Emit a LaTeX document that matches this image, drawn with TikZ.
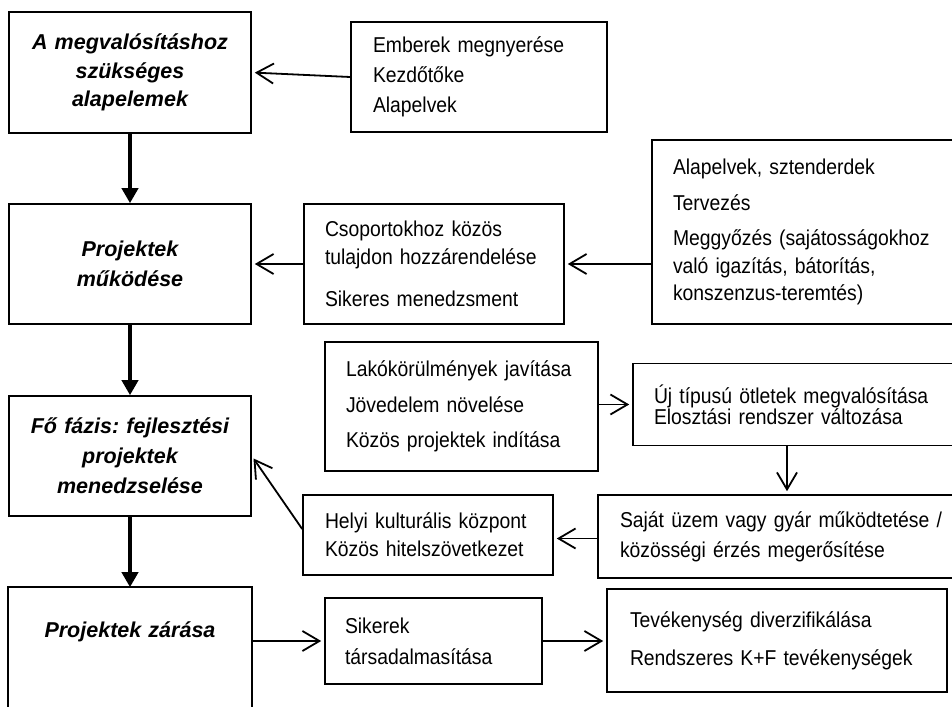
\documentclass[tikz,border=0pt]{standalone}
\usepackage{fontspec}
\setmainfont{Liberation Sans}
\newfontfamily\narrowfamily[FakeStretch=0.9]{Liberation Sans}
\usetikzlibrary{arrows.meta}

\newcommand{\boxfont}{\narrowfamily\fontsize{21.5}{22.5}\selectfont}
\newcommand{\headfont}{\fontsize{21.5}{30}\selectfont\bfseries\itshape}
\frenchspacing

\begin{document}
\begin{tikzpicture}[x=1pt, y=-1pt,
    box/.style={draw, line width=1.6pt, inner ysep=0pt, align=left, font=\boxfont},
    head/.style={draw, line width=1.6pt, inner sep=0pt, align=center, font=\headfont,
      text width=242pt, minimum height=120pt},
    sidearrow/.style={line width=1.8pt, -{Straight Barb[length=17pt,width=20pt]}, shorten >=3pt},
    mainarrow/.style={line width=4.5pt, -{Triangle[length=15pt,width=16pt]}}]
    \useasboundingbox (0,0) rectangle (952,706);
    % stages (left column)
    \node[head, minimum height=121pt] (0) at (130,72.5) {A megvalósításhoz\\[-1.5pt]szükséges\\[-1.5pt]alapelemek};
    \node[head] (2) at (130,264) {Projektek\\működése};
    \node[head] (5) at (130,456) {Fő fázis: fejlesztési\\projektek\\menedzselése};
    \node[head, draw=none, minimum height=88pt] (11) at (130,632) {Projektek zárása};
    \draw [line width=1.6pt] ([yshift=-130pt]11.north west) -- (11.north west)
        -- (11.north east) -- ([yshift=-130pt]11.north east); % open at the bottom
    \draw [mainarrow] (0) to (2);
    \draw [mainarrow] (2) to (5);
    \draw [mainarrow] (5) to (11);
    % inputs
    \node[box, text width=212pt, inner xsep=22pt, minimum height=110pt] (1) at (479,77)
        {Emberek megnyerése\\[7.5pt]Kezdőtőke\\[7.5pt]Alapelvek};
    \node[box, text width=218pt, inner xsep=21pt, minimum height=120pt] (3) at (434,264)
        {Csoportokhoz közös\\[5.5pt]tulajdon hozzárendelése\\[19.5pt]Sikeres menedzsment};
    \node[box, text width=276pt, inner xsep=21pt, minimum height=184pt] (4) at (811,232)
        {Alapelvek, sztenderdek\\[13.5pt]Tervezés\\[12.5pt]Meggyőzés (sajátosságokhoz\\[5.5pt]való igazítás, bátorítás,\\[4.5pt]konszenzus-teremtés)};
    \draw [sidearrow] (1.west) to (0.east);
    \draw [sidearrow] (3.east -| 4.west) to (3.east);
    \draw [sidearrow] (3.west) to (2.east);
    % main phase loop
    \node[box, text width=231pt, inner xsep=21pt, minimum height=129pt] (6) at (461.5,406.5)
        {Lakókörülmények javítása\\[13pt]Jövedelem növelése\\[13pt]Közös projektek indítása};
    \node[box, text width=295pt, inner xsep=21pt, minimum height=82pt] (7) at (801.5,404.5)
        {Új típusú ötletek megvalósítása\\[-1.5pt]Elosztási rendszer változása};
    \node[box, text width=328pt, inner xsep=22pt, minimum height=83pt] (8) at (784,536.5)
        {Saját üzem vagy gyár működtetése /\\[7.5pt]közösségi érzés megerősítése};
    \node[box, text width=206pt, inner xsep=22pt, minimum height=80pt] (9) at (428,535)
        {Helyi kulturális központ\\[5.5pt]Közös hitelszövetkezet};
    \draw [sidearrow] (7.west -| 6.east) to (7.west);
    \draw [sidearrow] ([xshift=-14.5pt]7.south) to ([xshift=-14.5pt]7.south |- 8.north);
    \draw [sidearrow] ([yshift=-2pt]8.west) to ([yshift=-2pt]8.west -| 9.east);
    \draw [sidearrow] ([yshift=6pt]9.west) to (5.east);
    % closing
    \node[box, text width=177pt, inner xsep=20pt, minimum height=86pt] (10) at (433.5,641)
        {Sikerek\\[8.5pt]társadalmasítása};
    \node[box, text width=294pt, inner xsep=23pt, minimum height=103pt] (12) at (777,640.5)
        {Tevékenység diverzifikálása\\[15.5pt]Rendszeres K+F tevékenységek};
    \draw [sidearrow] (10.west -| 11.east) to (10.west);
    \draw [sidearrow] (10.east) to (10.east -| 12.west);
\end{tikzpicture}
\end{document}
